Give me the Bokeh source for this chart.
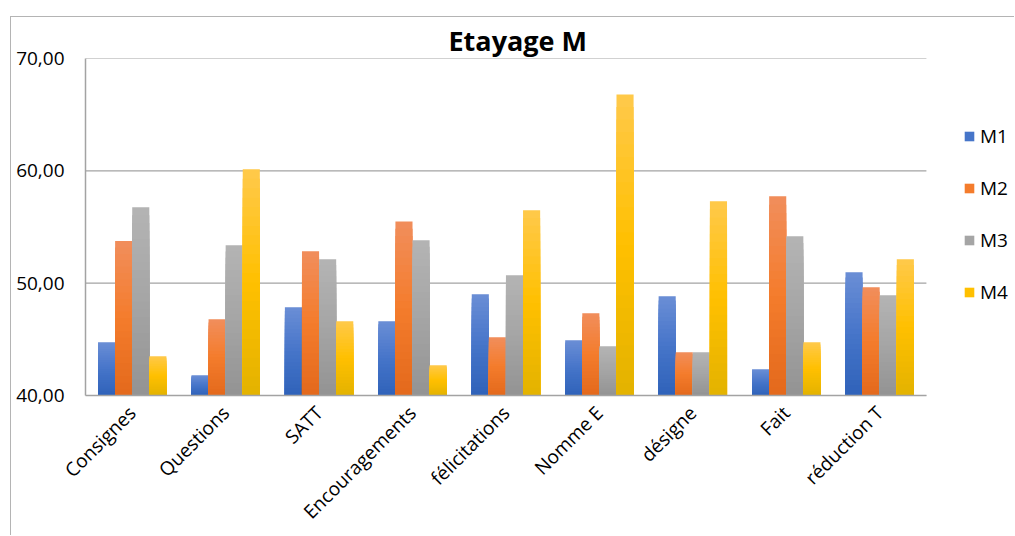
import math
from bokeh.plotting import figure
from bokeh.models import (Range1d, FixedTicker, Legend, LegendItem, ColumnDataSource)
from bokeh.embed import file_html
from bokeh.resources import INLINE

# ---------------- data ----------------
categories = ["Consignes", "Questions", "SATT", "Encouragements", "félicitations",
              "Nomme E", "désigne", "Fait", "réduction T"]
series_names = ["M1", "M2", "M3", "M4"]
m1 = [44.74, 41.80, 47.86, 46.61, 49.01, 44.92, 48.83, 42.34, 50.97]
m2 = [53.75, 46.79, 52.84, 55.50, 45.19, 47.32, 43.85, 57.73, 49.64]
m3 = [56.75, 53.37, 52.13, 53.82, 50.70, 44.39, 43.85, 54.17, 48.92]
m4 = [43.50, 60.13, 46.61, 42.70, 56.49, 66.80, 57.29, 44.74, 52.13]
y_ticks = [40, 50, 60, 70]
y_tick_labels = ["40,00", "50,00", "60,00", "70,00"]

series_values = [m1, m2, m3, m4]
# gradient stops (top, middle, bottom) per series
stops = [
    ("#6b8ed6", "#4675c9", "#2f62b9"),
    ("#f18e5c", "#f47c2c", "#e3691c"),
    ("#b4b4b4", "#a5a5a5", "#939393"),
    ("#ffc94b", "#ffc000", "#e3b200"),
]

FONT = "Open Sans"
BASE = 40.0
BAR_W = 0.183
NB = 24
NCAT = len(categories)

# layout: the plotting frame spans to the right edge (legend lives inside it);
# the category area occupies the first 840 px of the 929 px wide frame
FRAME_W = 929
CAT_AREA_W = 840
GRID_COLOR = "#a3a3a3"


def hex2rgb(h):
    h = h.lstrip("#")
    return tuple(int(h[i:i + 2], 16) for i in (0, 2, 4))


def mix(c1, c2, t):
    a, b = hex2rgb(c1), hex2rgb(c2)
    return "#%02x%02x%02x" % tuple(round(a[i] + (b[i] - a[i]) * t) for i in range(3))


def grad(st, t):
    if t <= 0.5:
        return mix(st[0], st[1], t / 0.5)
    return mix(st[1], st[2], (t - 0.5) / 0.5)


p = figure(width=1004, height=519, output_backend="svg", toolbar_location=None,
           x_range=Range1d(0, NCAT * FRAME_W / CAT_AREA_W), y_range=Range1d(40, 70),
           min_border_left=74, min_border_right=0, min_border_top=41,
           min_border_bottom=40)
p.margin = (16, 0, 0, 10)
p.styles = {"border-top": "1px solid #b4b4b4", "border-left": "1px solid #b4b4b4"}
p.outline_line_color = None
p.background_fill_color = "white"
p.border_fill_color = "white"

# horizontal grid lines limited to the category area
p.xgrid.visible = False
p.ygrid.visible = False
p.segment(x0=[0] * len(y_ticks), x1=[NCAT] * len(y_ticks), y0=y_ticks, y1=y_ticks,
          line_color=GRID_COLOR, line_width=1.2)

# bars with vertical gradient (painted as nested rects from the base)
xs, bots, tops, cols = [], [], [], []
for j, vals in enumerate(series_values):
    off = (j - 1.5) * BAR_W
    for i, v in enumerate(vals):
        for k in range(NB):
            frac_top = (NB - k) / NB
            xs.append(i + 0.5 + off)
            bots.append(BASE)
            tops.append(BASE + (v - BASE) * frac_top)
            cols.append(grad(stops[j], (k + 0.5) / NB))
src = ColumnDataSource(dict(x=xs, bottom=bots, top=tops, color=cols))
p.vbar(x="x", width=BAR_W, bottom="bottom", top="top", source=src,
       fill_color="color", line_color=None)

# legend (glyph-only renderers with no visible data)
items = []
for j, name in enumerate(series_names):
    r = p.vbar(x=[float("nan")], top=[float("nan")], bottom=[float("nan")], width=0.1,
               fill_color=stops[j][1], line_color=None)
    items.append(LegendItem(label=name, renderers=[r]))
legend = Legend(items=items, location=(878, 90), orientation="vertical",
                padding=0, margin=0, spacing=26, glyph_width=12, glyph_height=12,
                label_standoff=5, border_line_color=None, background_fill_alpha=0,
                label_text_font=FONT, label_text_font_size="19px",
                label_text_color="black")
p.add_layout(legend, "center")

# axes
p.yaxis.ticker = FixedTicker(ticks=y_ticks)
p.yaxis.major_label_overrides = {t: lab for t, lab in zip(y_ticks, y_tick_labels)}
p.yaxis.axis_line_color = GRID_COLOR
p.yaxis.axis_line_width = 1.5
p.yaxis.major_tick_line_color = None
p.yaxis.minor_tick_line_color = None
p.yaxis.major_tick_out = 0
p.yaxis.minor_tick_out = 0
p.yaxis.major_label_standoff = 21
p.yaxis.major_label_text_font = FONT
p.yaxis.major_label_text_font_size = "19px"
p.yaxis.major_label_text_color = "black"

x_ticks = [i + 0.5 for i in range(NCAT)]
p.xaxis.ticker = FixedTicker(ticks=x_ticks)
p.xaxis.bounds = (0, NCAT)
p.xaxis.major_label_overrides = {t: c for t, c in zip(x_ticks, categories)}
p.xaxis.major_label_orientation = math.pi / 4
p.xaxis.axis_line_color = GRID_COLOR
p.xaxis.axis_line_width = 1.5
p.xaxis.major_tick_line_color = None
p.xaxis.minor_tick_line_color = None
p.xaxis.major_tick_out = 0
p.xaxis.minor_tick_out = 0
p.xaxis.major_label_standoff = 14
p.xaxis.major_label_text_font = FONT
p.xaxis.major_label_text_font_size = "19px"
p.xaxis.major_label_text_color = "black"

# title
p.title.text = "Etayage M"
p.title.align = "left"
p.title.offset = 363
p.title.standoff = 0
p.title.text_font = FONT
p.title.text_font_size = "27px"
p.title.text_font_style = "bold"
p.title.text_color = "black"

open("out.html", "w").write(file_html(p, INLINE))
